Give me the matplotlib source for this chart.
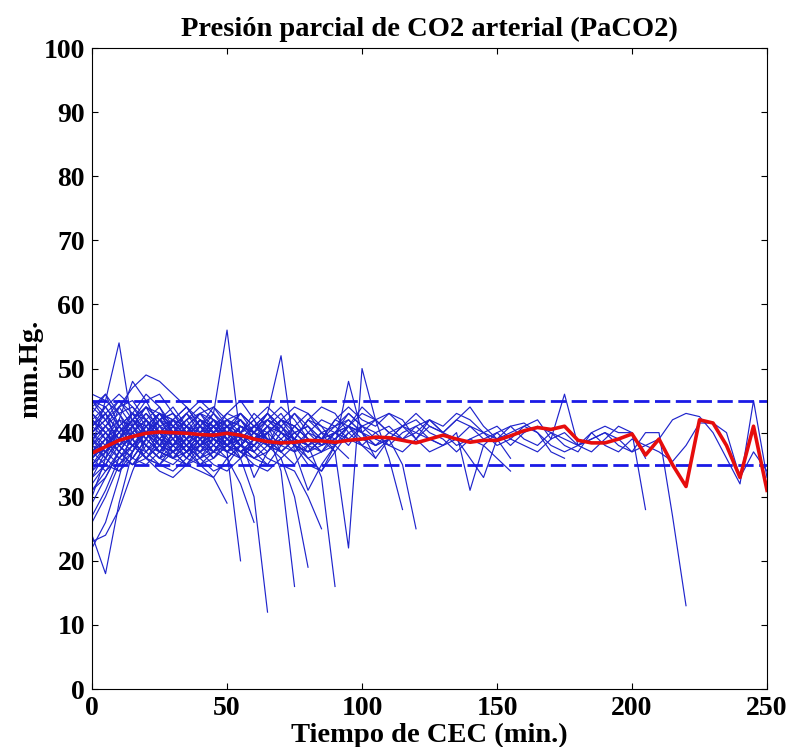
"""
PaCO2 durante la CEC: curvas individuales + media
"""
import matplotlib
matplotlib.use('Agg')
import matplotlib.pyplot as plt

plt.rcParams['font.family'] = ['Liberation Serif', 'DejaVu Serif']
plt.rcParams['font.weight'] = 'bold'

# rejilla de muestreo (min.)
minutos = list(range(0, 255, 5))

# curvas individuales (mm.Hg.), una por paciente, desde t=0 cada 5 min
p01 = [38, 45, 54, 41, 37, 39, 41, 40, 42, 39, 38, 40, 37]
p02 = [42, 40, 38, 41, 44, 42, 40, 38, 41, 43, 56, 39, 33, 37, 40, 39, 38]
p03 = [36, 38, 40, 42, 39, 37, 40, 42, 39, 36, 38, 41, 40, 43, 52, 37, 31, 35, 38]
p04 = [24, 18, 29, 37, 42, 40, 38, 41, 39, 37, 40, 42, 39, 38]
p05 = [22, 26, 33, 41, 44, 40, 37, 39, 42, 40, 38, 36, 39, 41, 37, 35, 38]
p06 = [40, 43, 38, 36, 39, 42, 44, 41, 38, 40, 37, 20]
p07 = [41, 39, 37, 40, 43, 41, 38, 36, 39, 42, 40, 36, 30, 12]
p08 = [37, 40, 42, 39, 36, 35, 38, 41, 43, 40, 38, 37, 39, 40, 34, 16]
p09 = [44, 42, 39, 41, 38, 36, 40, 43, 41, 39, 37, 40, 42, 38, 36, 30, 19]
p10 = [35, 38, 41, 43, 40, 37, 36, 39, 42, 41, 38, 40, 43, 41, 39, 37, 38, 33, 16]
p11 = [39, 36, 34, 37, 41, 43, 40, 38, 35, 33, 36, 32, 26]
p12 = [43, 46, 41, 38, 40, 39, 36, 35, 34, 33, 29]
p13 = [33, 35, 38, 40, 42, 44, 41, 38, 37, 39, 41, 40, 38, 36, 35, 34, 30, 25]
p14 = [38, 40, 37, 35, 38, 41, 42, 40, 38, 37, 39, 41, 40, 38, 42, 44, 43, 40,
       37, 22, 50, 42, 36, 28]
p15 = [40, 42, 44, 41, 39, 37, 36, 38, 40, 42, 39, 37, 38, 40, 41, 39, 36, 34,
       38, 48, 40, 36, 39, 35, 25]
p16 = [37, 39, 41, 43, 40, 38, 37, 39, 41, 40, 38, 36, 38, 40, 42, 41, 39, 38,
       40, 41, 39, 38, 40, 41, 40, 39, 38, 40, 31, 38, 36, 34]
p17 = [45, 42, 39, 37, 40, 43, 41, 39, 36, 38, 41, 43, 40, 38, 37, 39, 42, 41,
       40, 38, 41, 42, 40, 39, 41, 42, 40, 39, 36, 33, 39, 41, 41.5, 40, 37, 36]
p18 = [39, 41, 38, 36, 39, 42, 43, 40, 38, 39, 41, 42, 39, 37, 40, 43, 41, 38,
       39, 41, 40, 42, 43, 41, 39, 42, 41, 43, 42, 40, 38, 39, 41, 42, 39, 46,
       38, 37, 39, 41, 40, 36]
p19 = [36, 38, 40, 42, 41, 39, 38, 36, 39, 41, 40, 38, 37, 40, 42, 40, 38, 39,
       40, 39, 41, 40, 38, 37, 39, 41, 40, 42, 41, 39, 40, 38, 40, 41, 40, 38,
       37, 40, 41, 40, 40, 28]
p20 = [40, 37, 39, 42, 40, 38, 41, 43, 40, 37, 38, 41, 40, 39, 38, 40, 41, 39,
       40, 42, 40, 38, 39, 41, 42, 40, 39, 37, 39, 40, 41, 39, 38, 37, 39, 40,
       38, 39, 40, 39, 37, 40, 40, 27, 13]
p21 = [41, 43, 40, 38, 40, 42, 39, 37, 40, 41, 39, 38, 40, 42, 41, 39, 38, 40,
       39, 41, 40, 39, 38, 40, 41, 39, 38, 39, 41, 40, 39, 40, 41, 40, 38, 37,
       38, 39, 40, 38, 37, 38, 39, 42, 43, 42.5, 40, 36, 32, 45, 33]
p22 = [38, 36, 39, 41, 43, 40, 38, 39, 42, 40, 37, 39, 41, 40, 38, 37, 40, 42,
       41, 39, 38, 40, 41, 39, 40, 42, 40, 38, 39, 38, 40, 41, 39, 38, 40, 39,
       38, 40, 38, 37, 39, 38, 37, 35.5, 38, 41.5, 41.5, 40, 33, 37, 34]
p23 = [34, 38, 44, 47, 49, 48, 46, 44, 41, 38, 36, 38, 40, 39, 37]
p24 = [30, 36, 42, 48, 45, 41, 39, 37, 38, 40, 42, 41, 39]
p25 = [46, 45, 43, 40, 38, 37, 39, 42, 44, 42, 39, 37, 36, 38, 41, 43, 40, 38,
       39, 41, 40]
p26 = [29, 33, 37, 40, 38, 36, 35, 37, 40, 43, 41, 38, 36, 37, 39]
p27 = [27, 31, 36, 39, 41, 43, 42, 39, 37, 35, 34, 36, 39, 41, 40, 38, 37, 39,
       42, 41, 38, 36]
p28 = [45, 44, 41, 38, 36, 38, 41, 43, 45, 43, 40, 38, 37, 39]
p29 = [32, 35, 39, 43, 46, 44, 40, 37, 35, 36, 39, 41, 40, 42, 40, 38, 36, 37,
       40, 43, 41]
p30 = [37, 35, 34, 36, 39, 41, 40, 38, 36, 34, 35, 38]
p31 = [43, 41, 39, 42, 44, 43, 40, 37, 39, 41, 43, 42, 40, 38, 37, 39, 42, 40]
p32 = [31, 34, 36, 38, 37, 35, 34, 36, 38, 40, 39, 37, 35, 34, 36, 38, 40, 39, 37]
p33 = [40, 42, 45, 43, 40, 38, 39, 41, 38, 36, 38, 40, 42, 44, 42, 39, 37, 38,
       40, 41, 43, 42]
p34 = [35, 37, 39, 38, 36, 34, 33, 35, 38, 41, 42, 40, 37, 35]
p35 = [42, 39, 36, 35, 37, 40, 42, 41, 39, 40, 43, 45, 42, 39, 38, 40, 41, 39,
       38, 41, 44, 42, 40]
p36 = [26, 30, 35, 38, 40, 42, 40, 37, 38, 41, 39, 37]
p37 = [39, 41, 43, 44, 42, 39, 37, 35, 37, 40, 41, 39, 38, 40, 42, 41, 39]
p38 = [44, 46, 43, 39, 36, 35, 37, 39, 42, 41, 38, 40]
p39 = [36, 34, 37, 40, 38, 36, 38, 41, 40, 38, 37, 39, 41, 43, 41, 38, 35, 34,
       37, 40]
p40 = [41, 44, 46, 44, 41, 38, 37, 38, 40, 39, 37, 36, 38]
p41 = [33, 37, 41, 39, 36, 38, 42, 44, 41, 39, 38, 40, 41, 39, 37, 39, 42, 44,
       43, 40, 38, 37, 39]
p42 = [38, 37, 35, 37, 40, 42, 43, 41, 39, 37, 36, 38, 40, 42, 40]
p43 = [23, 24, 28, 34, 39, 42, 41, 39, 40]
p44 = [45, 43, 40, 42, 45, 46, 43, 40, 38, 39, 41]
p45 = [39, 37, 40, 43, 42, 39, 38, 40, 41, 39, 37, 38, 40, 43, 41, 38, 37, 39,
       42, 44, 42, 41, 43, 42, 39, 37, 38]
p46 = [42, 40, 38, 39, 41, 43, 40, 37, 39, 42, 40, 38, 41, 43, 40, 39, 38, 40,
       41, 42, 40, 38, 39, 41, 43, 41, 40, 42, 44, 41, 39, 36]
p47 = [41, 43, 45, 42, 39, 37, 38, 41, 43, 42, 39, 37, 38, 41, 43, 40, 38, 37, 39]
p48 = [36, 39, 42, 41, 38, 36, 37, 40, 43, 44, 41, 38, 36, 35, 38, 41]
p49 = [34, 36, 39, 42, 44, 42, 39, 36, 35, 37, 40, 42, 40, 38, 39, 41, 43, 41,
       38, 36]
p50 = [40, 38, 36, 38, 41, 43, 42, 39, 37, 38, 40, 43, 41, 39, 37]
p51 = [43, 40, 37, 35, 36, 39, 42, 44, 42, 40, 38, 39, 41, 42, 40, 38, 37, 39,
       41, 43, 41, 39]
p52 = [38, 41, 44, 45, 42, 38, 36, 37, 40, 42, 41, 38, 37]
p53 = [31, 33, 37, 40, 42, 40, 37, 35, 36, 39, 42, 43, 41]
p54 = [37, 39, 38, 36, 35, 37, 40, 42, 43, 41, 38, 37, 39, 42, 44, 42, 39, 37]
p55 = [42, 44, 41, 38, 40, 43, 41, 38, 36, 37, 40, 42]
p56 = [39, 37, 39, 42, 40, 37, 36, 38, 41, 44, 42, 39, 38, 40, 42, 41, 39, 37,
       38, 40, 41]

pacientes = [p01, p02, p03, p04, p05, p06, p07, p08, p09, p10, p11, p12, p13,
             p14, p15, p16, p17, p18, p19, p20, p21, p22, p23, p24, p25, p26,
             p27, p28, p29, p30, p31, p32, p33, p34, p35, p36, p37, p38, p39,
             p40, p41, p42, p43, p44, p45, p46, p47, p48, p49, p50, p51, p52,
             p53, p54, p55, p56]

# media de todas las curvas
media = [36.8, 37.8, 38.8, 39.4, 39.9, 40.1, 40.0, 39.9, 39.7, 39.6, 39.9,
         39.6, 39.0, 38.6, 38.4, 38.5, 38.8, 38.7, 38.5, 38.8, 39.0, 39.3,
         39.2, 38.8, 38.4, 39.0, 39.6, 39.0, 38.5, 38.8, 38.8, 39.5, 40.3,
         40.8, 40.5, 41.0, 38.8, 38.4, 38.4, 39.0, 39.8, 36.5, 39.0, 35.0,
         31.6, 42.0, 41.5, 38.0, 33.0, 41.0, 31.0]

# limites de normalidad
lim_inf = 35
lim_sup = 45

fig = plt.figure(figsize=(7.9, 7.47), dpi=100)
ax = fig.add_axes([0.1165, 0.0776, 0.8544, 0.8581])

for p in pacientes:
    ax.plot(minutos[:len(p)], p, color=(0.12, 0.14, 0.8), linewidth=0.85)

ax.axhline(lim_inf, color=(0.1, 0.1, 0.9), linewidth=2, dashes=(5.5, 2))
ax.axhline(lim_sup, color=(0.1, 0.1, 0.9), linewidth=2, dashes=(5.5, 2))
ax.plot(minutos, media, color=(0.9, 0.05, 0.05), linewidth=2.6)

ax.set_xlim(0, 250)
ax.set_ylim(0, 100)
ax.set_xticks(range(0, 251, 50))
ax.set_yticks(range(0, 101, 10))
ax.tick_params(direction='in', length=4.5, top=True, right=True,
               labelsize=20, pad=5)
for lbl in ax.get_xticklabels() + ax.get_yticklabels():
    lbl.set_fontweight('bold')

ax.set_title('Presión parcial de CO2 arterial (PaCO2)', fontsize=20.5,
             fontweight='bold', pad=9)
ax.set_xlabel('Tiempo de CEC (min.)', fontsize=20.5, fontweight='bold', labelpad=1)
ax.set_ylabel('mm.Hg.', fontsize=20.5, fontweight='bold', labelpad=0)

plt.savefig('out.png', dpi=100)
plt.close()
